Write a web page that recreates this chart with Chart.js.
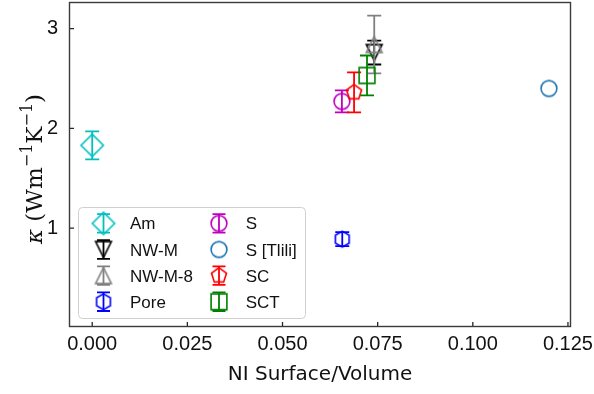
<!DOCTYPE html>
<html>
<head>
<meta charset="utf-8">
<script src="https://cdn.jsdelivr.net/npm/chart.js@4.4.1/dist/chart.umd.min.js"></script>
<style>
  html, body { margin: 0; padding: 0; background: #ffffff; }
  #c { display: block; }
</style>
</head>
<body>
<canvas id="c" width="594" height="394"></canvas>
<script>
// Thermal conductivity versus nano-inclusion surface/volume ratio
const seriesNames   = ['Am', 'NW-M', 'NW-M-8', 'Pore', 'S', 'S [Tlili]', 'SC', 'SCT'];
const surfaceVolume = [0.0, 0.0741, 0.0741, 0.0657, 0.0656, 0.120, 0.0688, 0.0722];
const kappa         = [1.83, 2.76, 2.84, 0.89, 2.27, 2.40, 2.36, 2.53];
const kappaErr      = [0.14, 0.12, 0.29, 0.07, 0.11, null, 0.20, 0.20];

const xTickValues = [0.000, 0.025, 0.050, 0.075, 0.100, 0.125];
const xTickLabels = ['0.000', '0.025', '0.050', '0.075', '0.100', '0.125'];
const yTickValues = [1, 2, 3];
const yTickLabels = ['1', '2', '3'];

// per-series look
const seriesColors = ['#00bfbf', '#000000', '#808080', '#0000ff', '#bf00bf', '#1f77b4', '#ff0000', '#008000'];
const seriesShapes = ['diamond', 'triDown', 'triUp', 'hexagon', 'circle', 'circle', 'pentagon', 'square'];

const MS = 15.8;          // marker size (px)
const EDGE = 1.6;         // marker edge width
const BAR_W = 1.8;        // error bar line width
const CAP = 7;            // error cap half-width

// plot frame edges in canvas pixels
const FRAME = { left: 69, top: 2, right: 571, bottom: 327 };
const NO_PAD = () => ({ left: 0, top: 0, right: 0, bottom: 0 });

function polygon(g, cx, cy, r, n) {
  for (let k = 0; k < n; k++) {
    const a = -Math.PI / 2 + k * 2 * Math.PI / n;
    const px = cx + r * Math.cos(a), py = cy + r * Math.sin(a);
    if (k === 0) g.moveTo(px, py); else g.lineTo(px, py);
  }
  g.closePath();
}

function traceMarker(g, shape, cx, cy) {
  const r = MS / 2;
  g.beginPath();
  switch (shape) {
    case 'diamond': {
      const d = MS * Math.SQRT1_2;
      g.moveTo(cx, cy - d); g.lineTo(cx + d, cy); g.lineTo(cx, cy + d); g.lineTo(cx - d, cy); g.closePath();
      break;
    }
    case 'triUp':
      g.moveTo(cx, cy - r); g.lineTo(cx + r, cy + r); g.lineTo(cx - r, cy + r); g.closePath();
      break;
    case 'triDown':
      g.moveTo(cx - r, cy - r); g.lineTo(cx + r, cy - r); g.lineTo(cx, cy + r); g.closePath();
      break;
    case 'square':
      g.rect(cx - r, cy - r, MS, MS);
      break;
    case 'pentagon':
      polygon(g, cx, cy, r, 5);
      break;
    case 'hexagon':
      polygon(g, cx, cy, r, 6);
      break;
    default:
      g.arc(cx, cy, r, 0, Math.PI * 2);
  }
}

function markerCanvas(shape, color) {
  const s = 28;
  const c = document.createElement('canvas');
  c.width = s; c.height = s;
  const g = c.getContext('2d');
  g.strokeStyle = color;
  g.lineWidth = EDGE;
  g.lineJoin = 'miter';
  traceMarker(g, shape, s / 2, s / 2);
  g.stroke();
  return c;
}

function drawErrorBar(ctx, x, yTop, yBot, color, cap) {
  ctx.save();
  ctx.strokeStyle = color;
  ctx.lineWidth = BAR_W;
  ctx.lineCap = 'butt';
  ctx.beginPath();
  ctx.moveTo(x, yTop); ctx.lineTo(x, yBot);
  ctx.moveTo(x - cap, yTop); ctx.lineTo(x + cap, yTop);
  ctx.moveTo(x - cap, yBot); ctx.lineTo(x + cap, yBot);
  ctx.stroke();
  ctx.restore();
}

const markerImages = seriesShapes.map((s, i) => markerCanvas(s, seriesColors[i]));

// markers are canvas images; a tiny radius keeps point overflow from padding the layout
const datasets = seriesNames.map((name, i) => ({
  label: name,
  data: [{ x: surfaceVolume[i], y: kappa[i] }],
  pointStyle: markerImages[i],
  pointRadius: 0.5,
  pointHoverRadius: 0,
  pointBorderWidth: 0,
  borderColor: seriesColors[i],
  backgroundColor: 'rgba(0,0,0,0)',
  showLine: false,
  order: seriesNames.length - 1 - i,   // later series paint on top
  clip: false
}));

// error bars, drawn under each series' own marker
const errorBarPlugin = {
  id: 'errorBars',
  beforeDatasetDraw(chart, args) {
    const i = args.index;
    const err = kappaErr[i];
    if (err == null) return;
    const xs = chart.scales.x, ys = chart.scales.y;
    const px = xs.getPixelForValue(surfaceVolume[i]);
    drawErrorBar(chart.ctx, px, ys.getPixelForValue(kappa[i] + err), ys.getPixelForValue(kappa[i] - err), seriesColors[i], CAP);
  }
};

// axes frame with inward ticks
const framePlugin = {
  id: 'frame',
  afterDatasetsDraw(chart) {
    const { ctx, chartArea: a } = chart;
    const xs = chart.scales.x, ys = chart.scales.y;
    ctx.save();
    ctx.strokeStyle = '#262626';
    ctx.lineWidth = 1.3;
    ctx.beginPath();
    xs.ticks.forEach(t => {
      const px = xs.getPixelForValue(t.value);
      ctx.moveTo(px, a.bottom); ctx.lineTo(px, a.bottom - 5);
    });
    ys.ticks.forEach(t => {
      const py = ys.getPixelForValue(t.value);
      ctx.moveTo(a.left, py); ctx.lineTo(a.left + 5, py);
    });
    ctx.stroke();
    ctx.strokeStyle = '#3a3a3a';
    ctx.lineWidth = 1.4;
    ctx.strokeRect(a.left + 0.5, a.top + 0.5, a.right - a.left - 1, a.bottom - a.top - 1);
    ctx.restore();
  }
};

// rotated y title with italic kappa and superscripts
const yTitlePlugin = {
  id: 'yTitle',
  afterDraw(chart) {
    const ctx = chart.ctx;
    const size = 23;
    const main = size + 'px "DejaVu Serif"';
    const ital = 'italic ' + size + 'px "DejaVu Serif"';
    const sup = Math.round(size * 0.7) + 'px "DejaVu Serif"';
    const parts = [
      { t: 'κ', f: ital, dy: 0 },
      { t: ' (Wm', f: main, dy: 0 },
      { t: '−1', f: sup, dy: -10 },
      { t: 'K', f: main, dy: 0 },
      { t: '−1', f: sup, dy: -10 },
      { t: ')', f: main, dy: 0 }
    ];
    ctx.save();
    let total = 0;
    parts.forEach(p => { ctx.font = p.f; p.w = ctx.measureText(p.t).width; total += p.w; });
    ctx.translate(42, 169);
    ctx.rotate(-Math.PI / 2);
    ctx.fillStyle = '#111111';
    ctx.textBaseline = 'alphabetic';
    let x = -total / 2;
    parts.forEach(p => { ctx.font = p.f; ctx.fillText(p.t, x, p.dy); x += p.w; });
    ctx.restore();
  }
};

// two-column legend inside the axes
const legendPlugin = {
  id: 'boxLegend',
  afterDraw(chart) {
    const ctx = chart.ctx;
    const box = { x: 78.5, y: 207.5, w: 227, h: 111, r: 4 };
    ctx.save();
    ctx.beginPath();
    ctx.roundRect(box.x, box.y, box.w, box.h, box.r);
    ctx.fillStyle = 'rgba(255,255,255,0.8)';
    ctx.fill();
    ctx.strokeStyle = '#d0d0d0';
    ctx.lineWidth = 1;
    ctx.stroke();

    const rows = 4;
    const colIcon = [103.5, 219];
    const colText = [130, 245.7];
    const row0 = 223.4, step = 26.1;
    ctx.font = '17px "Liberation Sans"';
    ctx.textBaseline = 'alphabetic';
    ctx.fillStyle = '#111111';
    seriesNames.forEach((name, i) => {
      const col = Math.floor(i / rows), row = i % rows;
      const cx = colIcon[col], cy = row0 + row * step;
      if (kappaErr[i] != null) drawErrorBar(ctx, cx, cy - 9.3, cy + 9.3, seriesColors[i], 6.5);
      ctx.drawImage(markerImages[i], cx - markerImages[i].width / 2, cy - markerImages[i].height / 2);
      ctx.fillText(name, colText[col], cy + 6);
    });
    ctx.restore();
  }
};

new Chart(document.getElementById('c'), {
  type: 'scatter',
  data: { datasets },
  plugins: [errorBarPlugin, framePlugin, yTitlePlugin, legendPlugin],
  options: {
    responsive: false,
    animation: false,
    events: [],
    layout: { padding: { left: 0, right: 594 - FRAME.right, top: FRAME.top, bottom: 0 } },
    plugins: { legend: { display: false }, tooltip: { enabled: false } },
    scales: {
      x: {
        type: 'linear',
        min: -0.0061,
        max: 0.1258,
        afterBuildTicks: s => { s.ticks = xTickValues.map(v => ({ value: v })); },
        afterFit: s => {
          s.height = 394 - FRAME.bottom;
          s.paddingLeft = s.paddingRight = s.paddingTop = s.paddingBottom = 0;
          s.getPadding = NO_PAD;
        },
        grid: { display: false, drawTicks: false },
        border: { display: false },
        ticks: {
          padding: 5,
          color: '#111111',
          font: { family: 'Liberation Sans', size: 20 },
          maxRotation: 0,
          callback: (v, idx) => xTickLabels[idx]
        },
        title: {
          display: true,
          text: 'NI Surface/Volume',
          color: '#111111',
          font: { family: 'DejaVu Sans', size: 20 },
          padding: { top: 0, bottom: 7 }
        }
      },
      y: {
        type: 'linear',
        min: 0.01,
        max: 3.266,
        afterBuildTicks: s => { s.ticks = yTickValues.map(v => ({ value: v })); },
        afterFit: s => {
          s.width = FRAME.left;
          s.paddingLeft = s.paddingRight = s.paddingTop = s.paddingBottom = 0;
          s.getPadding = NO_PAD;
        },
        grid: { display: false, drawTicks: false },
        border: { display: false },
        ticks: {
          padding: 11,
          color: '#111111',
          font: { family: 'Liberation Sans', size: 20 },
          callback: (v, idx) => yTickLabels[idx]
        }
      }
    }
  }
});
</script>
</body>
</html>
